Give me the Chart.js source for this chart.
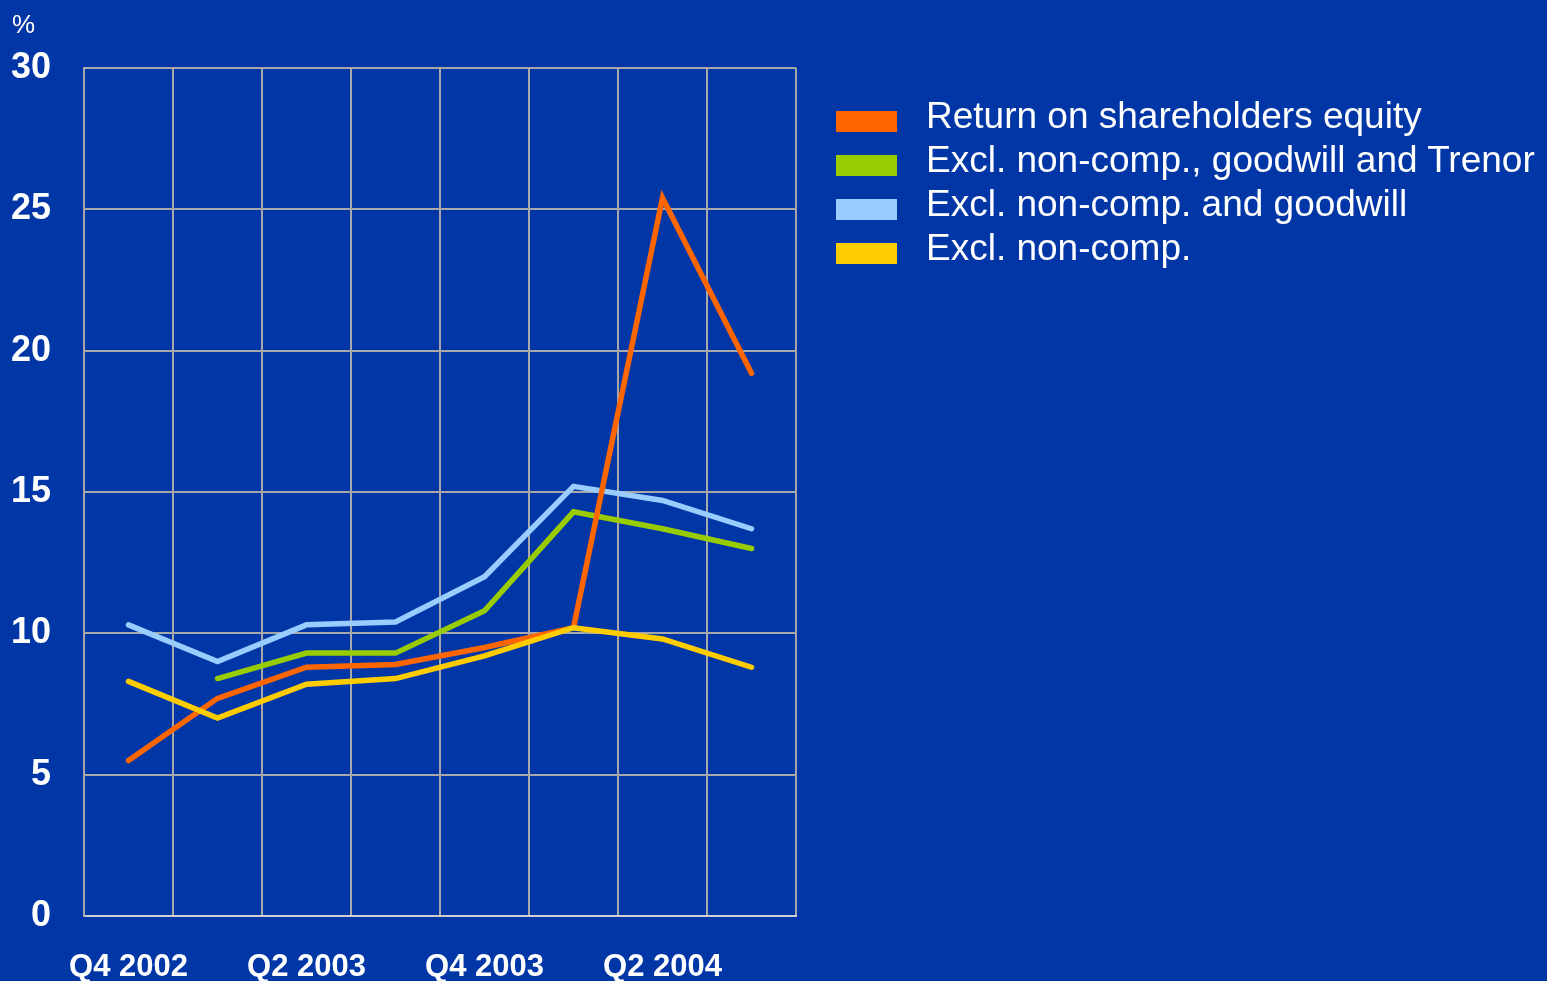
<!DOCTYPE html>
<html lang="en">
<head>
    <meta charset="UTF-8">
    <title>Return on shareholders equity</title>
    <script src="https://cdn.jsdelivr.net/npm/chart.js"></script>
    <style>
        body { margin: 0; background: #0036A6; overflow: hidden; }
        #wrap { position: relative; width: 1547px; height: 981px; }
        #unit { position: absolute; left: 12px; top: 9px; color: #fff; font: 26px "Liberation Sans", Arial, sans-serif; }
        #legend { position: absolute; left: 836px; top: 94px; color: #fff; font: 37px "Liberation Sans", Arial, sans-serif; white-space: nowrap; }
        .item { height: 44px; display: flex; align-items: center; }
        .box { width: 61px; height: 21px; margin-right: 29px; margin-top: 10px; }
    </style>
</head>
<body>
<div id="wrap">
    <canvas id="myChart" width="1547" height="981"></canvas>
    <div id="unit">%</div>
    <div id="legend"></div>
</div>
<script>
    // quarters
    var quarters = ['Q4 2002', 'Q1 2003', 'Q2 2003', 'Q3 2003', 'Q4 2003', 'Q1 2004', 'Q2 2004', 'Q3 2004'];

    // valores (%)
    var roe = [5.5, 7.7, 8.8, 8.9, 9.5, 10.2, 25.4, 19.2];
    var exclTrenor = [null, 8.4, 9.3, 9.3, 10.8, 14.3, 13.7, 13.0];
    var exclGoodwill = [10.3, 9.0, 10.3, 10.4, 12.0, 15.2, 14.7, 13.7];
    var exclNonComp = [8.3, 7.0, 8.2, 8.4, 9.2, 10.2, 9.8, 8.8];

    var seriesNames = ['Return on shareholders equity', 'Excl. non-comp., goodwill and Trenor', 'Excl. non-comp. and goodwill', 'Excl. non-comp.'];
    var seriesColors = ['#FF6600', '#99CC00', '#99CCFF', '#FFCC00'];
    var yTicks = [0, 5, 10, 15, 20, 25, 30];

    var allData = [roe, exclTrenor, exclGoodwill, exclNonComp];
    var drawOrder = [1, 3, 2, 0]; // menor = desenhado por cima

    var datasets = allData.map(function (d, i) {
        return {
            label: seriesNames[i],
            data: d,
            borderColor: seriesColors[i],
            backgroundColor: seriesColors[i],
            borderWidth: 5.5,
            borderCapStyle: 'round',
            borderJoinStyle: 'miter',
            pointRadius: 0,
            tension: 0,
            order: drawOrder[i]
        };
    });

    // legenda em html
    var legend = document.getElementById('legend');
    seriesNames.forEach(function (name, i) {
        var item = document.createElement('div');
        item.className = 'item';
        item.innerHTML = '<div class="box" style="background:' + seriesColors[i] + '"></div><span>' + name + '</span>';
        legend.appendChild(item);
    });

    const ctx = document.getElementById('myChart');
    new Chart(ctx, {
        type: 'line',
        data: { labels: quarters, datasets: datasets },
        options: {
            responsive: false,
            animation: false,
            layout: { padding: { top: 68, right: 751, left: 0, bottom: 0 } },
            plugins: { legend: { display: false }, tooltip: { enabled: false } },
            scales: {
                x: {
                    offset: true,
                    grid: { offset: true, color: '#A8A8A8', lineWidth: 2, drawTicks: false },
                    border: { color: '#D0D0D0', width: 2 },
                    ticks: {
                        color: '#fff',
                        font: { family: 'Liberation Sans', size: 31, weight: 'bold' },
                        padding: 33,
                        autoSkip: false,
                        maxRotation: 0,
                        callback: function (v, i) { return i % 2 === 0 ? quarters[i] : ''; }
                    },
                    afterFit: function (s) { s.height = 65; }
                },
                y: {
                    min: 0,
                    max: 30,
                    afterBuildTicks: function (s) { s.ticks = yTicks.map(function (v) { return { value: v }; }); },
                    grid: { color: '#A8A8A8', lineWidth: 2, drawTicks: false },
                    border: { color: '#A8A8A8', width: 2 },
                    ticks: {
                        color: '#fff',
                        font: { family: 'Liberation Sans', size: 36, weight: 'bold' },
                        padding: 33
                    },
                    afterFit: function (s) { s.width = 84; }
                }
            }
        }
    });
</script>
</body>
</html>
